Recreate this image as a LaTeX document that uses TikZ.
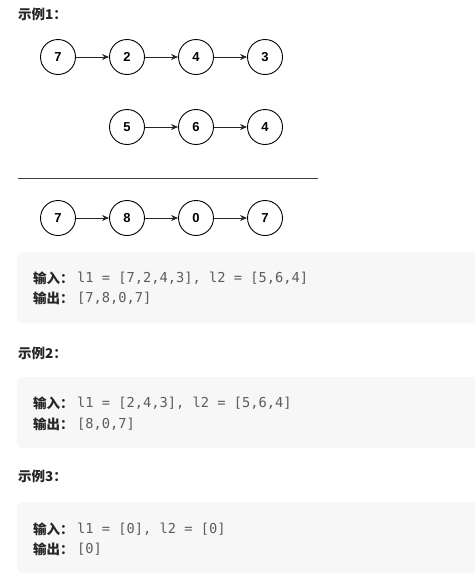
\documentclass[tikz,border=0pt]{standalone}
\usepackage{fontspec}
\setmainfont{Liberation Sans}
\newfontfamily\cjk{Noto Sans CJK SC}
\newfontfamily\monof{DejaVu Sans Mono}
\usetikzlibrary{arrows.meta}
\definecolor{boxbg}{HTML}{F7F7F8}
\definecolor{labtxt}{HTML}{262626}
\definecolor{codetxt}{HTML}{5C5C5C}
\tikzset{
  lnode/.style={circle,draw=black,line width=0.9pt,minimum size=35pt,inner sep=0pt,font=\fontsize{13}{13}\selectfont\bfseries},
  lnk/.style={draw=black!85,line width=0.8pt,-{Stealth[length=7pt,width=6pt]}},
  title/.style={anchor=west,inner sep=0pt,font=\cjk\fontsize{13.5}{13.5}\selectfont\bfseries,text=labtxt},
  lab/.style={anchor=west,inner sep=0pt,font=\cjk\fontsize{13.5}{13.5}\selectfont\bfseries,text=labtxt},
  code/.style={anchor=west,inner sep=0pt,font=\monof\fontsize{13.7}{13.7}\selectfont,text=codetxt},
  codebox/.style={fill=boxbg,draw=none,rounded corners=6pt}
}
\begin{document}
\begin{tikzpicture}[x=1pt,y=-1pt]
\useasboundingbox (0,0) rectangle (475,584);
\clip (0,0) rectangle (475,584);
% title 1
\node[title] (t1) at (18,14) {示例1：};
% row 1
\node[lnode] (a1) at (58,57) {7};
\node[lnode] (a2) at (127,57) {2};
\node[lnode] (a3) at (196,57) {4};
\node[lnode] (a4) at (265,57) {3};
\draw[lnk] (a1) -- (a2);
\draw[lnk] (a2) -- (a3);
\draw[lnk] (a3) -- (a4);
% row 2
\node[lnode] (b1) at (127,127) {5};
\node[lnode] (b2) at (196,127) {6};
\node[lnode] (b3) at (265,127) {4};
\draw[lnk] (b1) -- (b2);
\draw[lnk] (b2) -- (b3);
% separator
\coordinate (s1) at (18,178);
\coordinate (s2) at (318,178);
\draw[black!75,line width=1pt] (s1) -- (s2);
% row 3
\node[lnode] (c1) at (58,218) {7};
\node[lnode] (c2) at (127,218) {8};
\node[lnode] (c3) at (196,218) {0};
\node[lnode] (c4) at (265,218) {7};
\draw[lnk] (c1) -- (c2);
\draw[lnk] (c2) -- (c3);
\draw[lnk] (c3) -- (c4);
% box 1
\path[codebox] (17,252) rectangle (500,323);
\node[lab] (in1) at (33,278) {输入：};
\node[code] (ci1) at (77,278) {l1 = [7,2,4,3], l2 = [5,6,4]};
\node[lab] (out1) at (33,298) {输出：};
\node[code] (co1) at (77,298) {[7,8,0,7]};
% example 2
\node[title] (t2) at (18,353) {示例2：};
\path[codebox] (17,377) rectangle (500,448);
\node[lab] (in2) at (33,403) {输入：};
\node[code] (ci2) at (77,403) {l1 = [2,4,3], l2 = [5,6,4]};
\node[lab] (out2) at (33,424) {输出：};
\node[code] (co2) at (77,424) {[8,0,7]};
% example 3
\node[title] (t3) at (18,476) {示例3：};
\path[codebox] (17,502) rectangle (500,573);
\node[lab] (in3) at (33,529) {输入：};
\node[code] (ci3) at (77,529) {l1 = [0], l2 = [0]};
\node[lab] (out3) at (33,549) {输出：};
\node[code] (co3) at (77,549) {[0]};
\end{tikzpicture}
\end{document}
